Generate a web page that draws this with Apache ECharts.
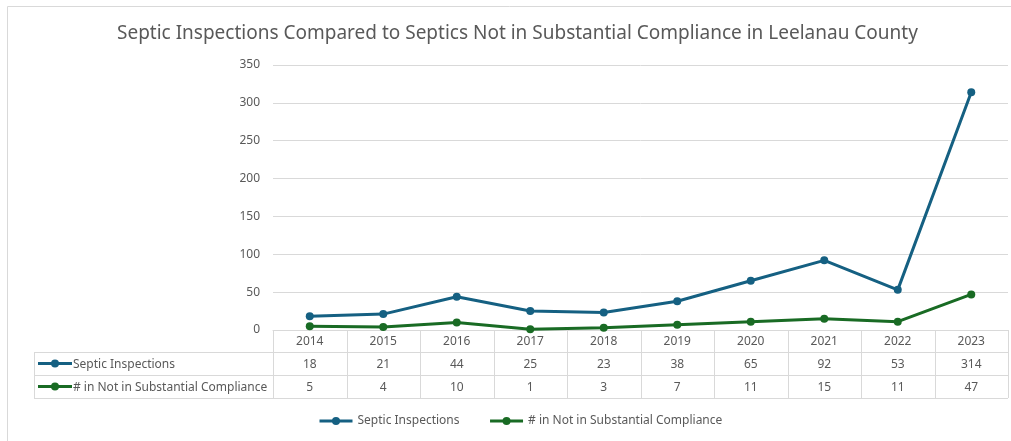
<!DOCTYPE html>
<html>
<head>
<meta charset="utf-8">
<script src="https://cdn.jsdelivr.net/npm/echarts@6/dist/echarts.min.js"></script>
<style>
  html, body { margin: 0; padding: 0; background: #fff; }
  #chart { width: 1011px; height: 441px; }
</style>
</head>
<body>
<div id="chart"></div>
<script>
  const years = ['2014', '2015', '2016', '2017', '2018', '2019', '2020', '2021', '2022', '2023']
  const inspections = [18, 21, 44, 25, 23, 38, 65, 92, 53, 314]
  const notCompliant = [5, 4, 10, 1, 3, 7, 11, 15, 11, 47]
  const seriesNames = ['Septic Inspections', '# in Not in Substantial Compliance']
  const colors = ['#156082', '#196B24']

  const FONT = 'Noto Sans'
  const TEXT = '#595959'
  const BORDER = '#d9d9d9'

  const chart = echarts.init(document.getElementById('chart'))

  const lineSeries = (name, data, color) => ({
    name: name,
    type: 'line',
    data: data,
    symbol: 'circle',
    symbolSize: 8,
    color: color,
    lineStyle: { width: 3, color: color },
    itemStyle: { color: color },
    animation: false,
  })

  const option = {
    animation: false,
    textStyle: { fontFamily: FONT },
    title: {
      text: 'Septic Inspections Compared to Septics Not in Substantial Compliance in Leelanau County',
      left: 112,
      top: 19,
      textStyle: { fontFamily: FONT, fontSize: 19, fontWeight: 'normal', color: TEXT },
    },
    legend: {
      bottom: 9,
      left: 313,
      itemWidth: 33,
      itemHeight: 10,
      itemGap: 29,
      lineStyle: { width: 3 },
      textStyle: { fontFamily: FONT, fontSize: 12, color: TEXT },
      data: seriesNames,
    },
    grid: { left: 273, right: 3, top: 65, bottom: 111, containLabel: false },
    xAxis: {
      type: 'category',
      data: years,
      boundaryGap: true,
      axisLine: { show: true, lineStyle: { color: BORDER, width: 1 } },
      axisTick: { show: false },
      axisLabel: { show: false },
    },
    yAxis: {
      type: 'value',
      min: 0,
      max: 350,
      interval: 50,
      axisLine: { show: false },
      axisTick: { show: false },
      axisLabel: { color: TEXT, fontSize: 12, fontFamily: FONT, margin: 13 },
      splitLine: { lineStyle: { color: BORDER, width: 1 } },
    },
    series: [
      lineSeries(seriesNames[0], inspections, colors[0]),
      lineSeries(seriesNames[1], notCompliant, colors[1]),
    ],
  }
  chart.setOption(option)

  // data table under the plot, positioned from the category axis
  function buildTable() {
    const n = years.length
    const c0 = chart.convertToPixel({ xAxisIndex: 0 }, 0)
    const c1 = chart.convertToPixel({ xAxisIndex: 0 }, 1)
    const band = c1 - c0
    const left = c0 - band / 2
    const right = left + band * n
    const top = chart.convertToPixel({ yAxisIndex: 0 }, 0)
    const rowH = [22, 23, 23]
    const labelLeft = 34
    const ys = [top, top + rowH[0], top + rowH[0] + rowH[1], top + rowH[0] + rowH[1] + rowH[2]]
    const els = []
    const line = (x1, y1, x2, y2) => els.push({
      type: 'line', silent: true,
      shape: { x1: x1, y1: y1, x2: x2, y2: y2 },
      style: { stroke: BORDER, lineWidth: 1 },
    })
    const text = (x, y, s, align) => els.push({
      type: 'text', silent: true, x: x, y: y,
      style: { text: s, fill: TEXT, font: '12px "' + FONT + '"', align: align || 'center', verticalAlign: 'middle' },
    })
    // horizontal borders
    line(left, ys[0] + 0.5, right, ys[0] + 0.5)
    for (let r = 1; r < 4; r++) line(labelLeft, Math.round(ys[r]) + 0.5, right, Math.round(ys[r]) + 0.5)
    // vertical borders
    line(labelLeft + 0.5, ys[1], labelLeft + 0.5, ys[3])
    for (let i = 0; i <= n; i++) {
      const x = Math.round(left + band * i) + 0.5
      line(x, ys[0], x, ys[3])
    }
    // cells
    const rows = [years, inspections, notCompliant]
    for (let r = 0; r < 3; r++) {
      const yc = (ys[r] + ys[r + 1]) / 2 + 1
      rows[r].forEach((v, i) => {
        text(chart.convertToPixel({ xAxisIndex: 0 }, i), yc, String(v))
      })
    }
    // row headers with series keys
    for (let s = 0; s < 2; s++) {
      const yc = (ys[s + 1] + ys[s + 2]) / 2
      els.push({
        type: 'line', silent: true,
        shape: { x1: 38, y1: yc, x2: 72, y2: yc },
        style: { stroke: colors[s], lineWidth: 3 },
      })
      els.push({
        type: 'circle', silent: true,
        shape: { cx: 55, cy: yc, r: 4 },
        style: { fill: colors[s] },
      })
      text(73, yc + 1, seriesNames[s], 'left')
    }
    // outer chart border
    els.push({
      type: 'rect', silent: true,
      shape: { x: 7.5, y: 6.5, width: 1020, height: 450 },
      style: { fill: 'none', stroke: BORDER, lineWidth: 1 },
    })
    chart.setOption({ graphic: els })
  }
  buildTable()
</script>
</body>
</html>
